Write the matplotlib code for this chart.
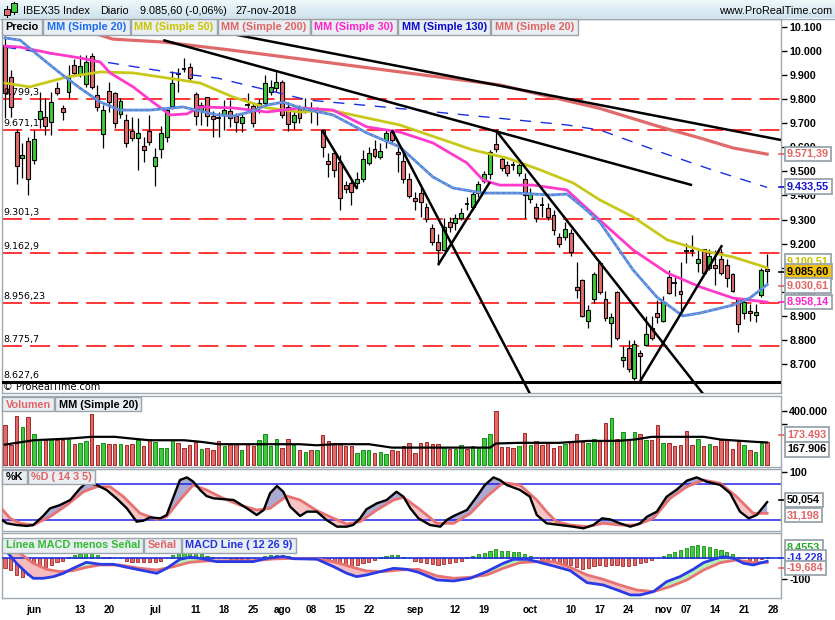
import numpy as np
import pandas as pd
import matplotlib
matplotlib.use("Agg")
import matplotlib.pyplot as plt
from matplotlib.patches import Rectangle
from matplotlib.lines import Line2D
from matplotlib.colors import LinearSegmentedColormap
import matplotlib.transforms as mtrans

plt.rcParams['font.family'] = ['Liberation Sans', 'DejaVu Sans']
plt.rcParams['lines.scale_dashes'] = False

# ---------------- data ----------------
dates = pd.bdate_range('2018-05-25', '2018-11-27')

opens = [10023, 9892, 9664, 9554, 9626, 9547, 9716, 9726, 9703, 9844,
         9761, 9830, 9941, 9900, 9861, 9978, 9816, 9653, 9833, 9826,
         9738, 9713, 9668, 9637, 9605, 9668, 9523, 9591, 9641, 9772,
         9902, 9926, 9934, 9821, 9754, 9807, 9730, 9722, 9734, 9751,
         9730, 9699, 9773, 9771, 9768, 9782, 9827, 9844, 9869, 9765,
         9706, 9761, 9750, 9756, 9747, 9671, 9544, 9575, 9537, 9443,
         9450, 9450, 9467, 9533, 9591, 9558, 9630, 9664, 9582, 9544,
         9467, 9388, 9412, 9351, 9267, 9209, 9174, 9290, 9285, 9308,
         9364, 9354, 9409, 9461, 9489, 9612, 9550, 9526, 9527, 9492,
         9467, 9384, 9354, 9362, 9347, 9319, 9229, 9230, 9244, 9020,
         9051, 8881, 8970, 9119, 8970, 8873, 8999, 8718, 8767, 8642,
         8746, 8780, 8850, 8912, 8881, 9061, 9038, 9004, 9168, 9168,
         9119, 9177, 9098, 9112, 9135, 9112, 9075, 8970, 8912, 8921,
         8905, 8988, 9094]
highs = [10060, 9920, 9675, 9616, 9644, 9671, 9830, 9803, 9830, 9872,
         9775, 9941, 9964, 9982, 9982, 9989, 9857, 9775, 9872, 9830,
         9803, 9738, 9724, 9720, 9644, 9733, 9596, 9688, 9761, 9917,
         9927, 9968, 9948, 9830, 9789, 9810, 9752, 9747, 9796, 9796,
         9740, 9740, 9823, 9789, 9800, 9899, 9878, 9920, 9880, 9789,
         9754, 9775, 9803, 9789, 9768, 9674, 9575, 9582, 9568, 9460,
         9464, 9499, 9588, 9602, 9630, 9616, 9671, 9671, 9602, 9582,
         9492, 9416, 9430, 9367, 9280, 9240, 9306, 9310, 9325, 9347,
         9395, 9420, 9460, 9500, 9590, 9671, 9561, 9545, 9545, 9540,
         9492, 9430, 9368, 9395, 9368, 9340, 9245, 9290, 9260, 9126,
         9055, 8945, 9085, 9130, 9005, 8913, 9005, 8778, 8803, 8803,
         8760, 8900, 8900, 8965, 8985, 9090, 9062, 9126, 9203, 9236,
         9175, 9180, 9180, 9175, 9180, 9135, 9080, 8975, 8970, 8950,
         8950, 9100, 9158]
lows = [9721, 9727, 9448, 9471, 9402, 9530, 9678, 9651, 9651, 9815,
        9713, 9803, 9895, 9890, 9850, 9840, 9750, 9595, 9747, 9678,
        9720, 9600, 9625, 9506, 9540, 9610, 9441, 9554, 9623, 9760,
        9830, 9913, 9872, 9692, 9692, 9690, 9641, 9641, 9671, 9685,
        9665, 9665, 9747, 9685, 9740, 9770, 9815, 9830, 9720, 9669,
        9674, 9700, 9743, 9699, 9692, 9561, 9478, 9478, 9340, 9410,
        9361, 9430, 9457, 9526, 9554, 9550, 9595, 9620, 9499, 9450,
        9390, 9340, 9312, 9290, 9195, 9112, 9168, 9250, 9256, 9299,
        9340, 9340, 9395, 9450, 9470, 9580, 9500, 9480, 9505, 9480,
        9305, 9370, 9292, 9312, 9298, 9236, 9185, 9215, 9150, 8975,
        8895, 8850, 8955, 8990, 8880, 8772, 8800, 8690, 8670, 8636,
        8630, 8775, 8800, 8870, 8875, 8990, 8985, 8910, 9119, 9150,
        9085, 9075, 9090, 9030, 9070, 9020, 9000, 8835, 8890, 8880,
        8875, 8980, 9037]
closes = [9825, 9768, 9522, 9568, 9467, 9634, 9750, 9688, 9789, 9826,
          9745, 9896, 9909, 9935, 9954, 9848, 9768, 9754, 9786, 9699,
          9792, 9616, 9637, 9658, 9588, 9620, 9558, 9660, 9754, 9865,
          9900, 9924, 9886, 9730, 9775, 9730, 9716, 9720, 9754, 9722,
          9706, 9724, 9771, 9702, 9782, 9865, 9851, 9869, 9734, 9696,
          9734, 9720, 9768, 9752, 9761, 9600, 9529, 9506, 9388, 9426,
          9416, 9467, 9550, 9577, 9564, 9586, 9658, 9630, 9571, 9467,
          9399, 9377, 9374, 9302, 9209, 9174, 9271, 9268, 9305, 9329,
          9362, 9406, 9447, 9489, 9582, 9591, 9512, 9492, 9525, 9526,
          9402, 9406, 9305, 9360, 9312, 9257, 9199, 9260, 9167, 9008,
          8900, 8925, 9075, 9001, 8891, 8895, 8808, 8732, 8680, 8785,
          8735, 8826, 8808, 8895, 8960, 8997, 9036, 8992, 9166, 9166,
          9135, 9078, 9149, 9098, 9078, 9057, 9006, 8867, 8960, 8912,
          8918, 9091, 9085.60]

# volume in thousands
volumes_k = [295, 147, 361, 278, 351, 233, 184, 184, 189, 189,
             184, 204, 155, 165, 177, 376, 147, 165, 160, 160,
             155, 147, 155, 184, 140, 196, 172, 130, 130, 184,
             165, 130, 147, 172, 123, 130, 111, 177, 140, 155,
             160, 115, 160, 140, 184, 228, 140, 196, 130, 196,
             147, 111, 98, 111, 111, 221, 177, 165, 165, 140,
             140, 93, 111, 111, 93, 98, 81, 111, 103, 140,
             167, 91, 165, 172, 160, 160, 135, 118, 123, 150,
             118, 143, 135, 204, 228, 400, 135, 135, 130, 145,
             240, 150, 177, 150, 165, 130, 140, 160, 172, 233,
             172, 167, 196, 184, 307, 344, 196, 245, 189, 245,
             233, 184, 189, 295, 167, 167, 140, 147, 250, 147,
             196, 140, 155, 140, 184, 184, 123, 177, 147, 115,
             98, 165, 173.493]
vol_ma_x = [0, 5, 11, 15, 19, 22, 25, 31, 34, 37, 51, 54, 57, 63, 67, 72,
            84, 85, 89, 96, 101, 106, 109, 112, 121, 124, 130, 132]
vol_ma_k = [152, 184, 196, 209, 209, 196, 184, 184, 172, 155, 155, 147, 155,
            155, 130, 130, 130, 160, 165, 165, 179, 179, 189, 209, 209, 189,
            172, 167.906]

# moving averages (day index, value)
sma20_x = [0, 2.6, 6.1, 9.5, 13, 16.5, 19.9, 25.1, 30.8, 36.7, 39.5, 42.4,
           45.4, 48.2, 51.1, 56.8, 62.7, 68.4, 74.1, 77.6, 82.8, 88.7, 94.4,
           97.3, 100.1, 103, 108.8, 112.9, 117.4, 120.4, 126.1, 129, 132]
sma20 = [10053, 10044, 9974, 9908, 9845, 9787, 9754, 9754, 9767, 9734, 9729,
         9746, 9775, 9787, 9763, 9734, 9659, 9601, 9477, 9431, 9410, 9410,
         9402, 9406, 9352, 9290, 9091, 8979, 8901, 8913, 8946, 8975, 9030.61]
sma50_x = [0, 4.3, 10.7, 16.5, 22.2, 28.1, 33.8, 39.5, 45.4, 51.1, 56.3,
           68.4, 81, 87, 92.7, 98.4, 103, 108.8, 114.7, 120.4, 126.1, 132]
sma50 = [9866, 9850, 9891, 9912, 9908, 9887, 9866, 9808, 9763, 9746, 9754,
         9692, 9589, 9555, 9506, 9452, 9382, 9311, 9216, 9174, 9145, 9100.51]
sma200_x = [0, 16, 18.7, 27.4, 39, 51.1, 68.4, 85.7, 103, 113.5, 120.4, 126.1, 132]
sma200 = [10160, 10068, 10048, 10036, 10003, 9966, 9912, 9858, 9761, 9684,
          9638, 9597, 9571.39]
sma30_x = [0, 2.6, 7.8, 13, 16.5, 18.2, 22.2, 25.1, 28.6, 31.5, 33.8, 39.5,
           45.4, 51.1, 56.8, 62.7, 68.4, 74.1, 80, 82.8, 85.7, 91.5, 97.3,
           103, 108.8, 114.7, 120.4, 126.1, 132]
sma30 = [10019, 10015, 9990, 9970, 9953, 9908, 9850, 9796, 9734, 9738, 9767,
         9763, 9746, 9763, 9754, 9684, 9663, 9618, 9535, 9464, 9443, 9443,
         9423, 9298, 9174, 9079, 9021, 8975, 8958.14]
sma130_x = [0, 11.8, 28.1, 36.7, 45.4, 52.3, 65.5, 85.2, 97.4, 103.1, 113.5,
            122, 132]
sma130 = [10015, 9974, 9912, 9887, 9837, 9796, 9767, 9721, 9692, 9671, 9580,
          9510, 9433.55]

# drawn levels and trend lines
level_values = [9799.3, 9671.1, 9301.3, 9162.9, 8956.23, 8775.7]
level_labels = ['9.799,3', '9.671,1', '9.301,3', '9.162,9', '8.956,23', '8.775,7']
support_value = 8627.6
support_label = '8.627,6'
trend_lines = [  # (day0, price0, day1, price1)
    (27.7, 10123, 134.4, 9630),
    (27.4, 10044, 119.0, 9443),
    (54.9, 9671, 61.0, 9427),
    (67.0, 9671, 91.0, 8575),
    (75.0, 9112, 84.0, 9456),
    (85.0, 9671, 121.0, 8575),
    (110.0, 8630, 124.2, 9194),
]

# stochastic
stoch_k_x = [-0.9, 0.3, 2.0, 3.8, 4.9, 6.6, 7.8, 9.5, 11.3, 13.0, 14.1, 15.9,
             17.6, 19.3, 21.1, 22.8, 24.0, 25.1, 26.9, 28.0, 29.2, 30.3, 31.5,
             32.6, 33.8, 34.9, 36.1, 39.6, 41.9, 43.6, 44.8, 45.9, 47.1, 48.2,
             49.4, 51.1, 52.3, 54.0, 55.7, 57.5, 59.2, 60.3, 61.5, 62.6, 64.4,
             66.1, 67.8, 69.0, 70.2, 71.6, 73.6, 75.4, 76.5, 77.7, 80.0, 81.7,
             83.1, 84.6, 85.7, 86.9, 89.2, 90.9, 92.1, 93.8, 96.1, 98.4, 100.2,
             101.9, 103.4, 104.8, 106.5, 108.3, 110.0, 111.2, 112.9, 114.6,
             116.4, 118.1, 119.8, 121.5, 123.9, 125.6, 127.3, 128.8, 130.2, 132.0]
stoch_k = [22.8, 14.4, 11.6, 10, 11.6, 26.7, 39.6, 45, 53.6, 73.1, 82.7, 78.8,
           70.4, 56.4, 39.6, 17.2, 18.9, 24.4, 22.8, 28.4, 59.2, 87.2, 91.6,
           84.4, 70.4, 60.3, 56.4, 53.6, 39.6, 28.4, 36.8, 64.8, 77.1, 67.5,
           42.3, 26.7, 34, 34, 20, 8.8, 8.8, 11.6, 22.8, 38, 48, 53.6, 67.5,
           59.2, 39.6, 22.8, 11.6, 8.8, 20, 26.7, 36.8, 59.2, 78.8, 91.6, 87.2,
           78.8, 70.4, 59.2, 28.4, 14.4, 11.6, 8.8, 6, 11.6, 22.8, 21.1, 14.4,
           8.8, 14.4, 25.6, 34, 59.2, 71.5, 86.1, 91.6, 84.4, 78.8, 64.8, 34,
           22.8, 28.4, 50.054]
stoch_d_x = [-0.9, 0.9, 2.6, 4.9, 7.8, 10.7, 13.6, 15.9, 18.2, 20.5, 23.4,
             26.3, 28.0, 30.3, 32.6, 34.9, 37.8, 40.7, 43.6, 45.9, 48.8, 51.1,
             54.0, 56.9, 59.2, 61.5, 64.4, 67.3, 69.0, 71.6, 74.8, 77.7, 80.6,
             83.4, 86.3, 89.2, 92.1, 93.8, 95.5, 97.9, 100.8, 103.6, 106.5,
             109.4, 112.3, 115.2, 118.1, 121.0, 123.9, 126.7, 129.6, 132.0]
stoch_d = [42.3, 22.8, 14.4, 11.6, 25.6, 45, 67.5, 75.9, 75.9, 59.2, 31.2,
           21.1, 25.6, 53.6, 78.8, 70.4, 56.4, 45, 36.8, 39.6, 60.3, 53.6,
           35.7, 22.8, 13.3, 17.2, 36.8, 53.6, 58.1, 39.6, 14.4, 14.4, 31.2,
           59.2, 82.7, 78.8, 53.6, 34, 17.2, 11.6, 8.8, 14.4, 11.6, 11.6, 22.8,
           56.4, 75.9, 87.2, 81.6, 59.2, 31.2, 31.198]

# MACD
macd_x = [-0.9, 0.3, 2.0, 3.8, 4.9, 6.6, 8.4, 10.1, 11.8, 14.1, 16.5, 18.8,
          21.1, 23.4, 26.3, 28.0, 30.3, 32.0, 33.8, 36.7, 39.6, 43.0, 45.3,
          48.2, 50.0, 54.0, 56.9, 59.2, 60.9, 62.6, 65.0, 67.3, 69.6, 71.6,
          74.8, 77.7, 80.6, 83.4, 86.3, 88.1, 90.4, 92.1, 95.0, 97.9, 100.8,
          103.6, 106.5, 108.3, 110.0, 112.3, 114.6, 116.9, 119.2, 121.0, 122.7,
          124.4, 126.2, 127.9, 129.6, 132.0]
macd_line = [47.6, 31.7, -23.8, -71.4, -95.2, -95.2, -87.3, -71.4, -47.6, -19,
             -28.6, -28.6, -42.9, -55.6, -71.4, -47.6, -4.8, 4.8, 0, -15.9,
             -15.9, -15.9, 0, 7.9, -2, -4, -39.7, -71.4, -87.3, -79.4, -63.5,
             -47.6, -52.4, -66.7, -103, -108, -95, -63.5, -23.8, -4.8, -4.8,
             -15.9, -36.5, -58.7, -115.9, -127, -155.6, -174.6, -174.6, -158.7,
             -111, -87.3, -52.4, -20.6, -4.8, 7.9, 0, -23.8, -31.7, -14.228]
signal_x = [-0.9, 2.6, 4.9, 7.2, 9.5, 11.8, 14.1, 16.5, 19.9, 23.4, 26.3, 29.2,
            32.0, 34.9, 39.6, 43.0, 46.5, 50.0, 54.0, 56.9, 59.8, 62.6, 65.5,
            68.4, 71.6, 74.8, 77.7, 80.6, 83.4, 86.3, 89.2, 92.1, 95.0, 97.9,
            100.8, 103.6, 106.5, 109.4, 112.3, 115.2, 118.1, 121.0, 123.9,
            126.7, 129.6, 132.0]
signal_line = [71, 23.8, -23.8, -52.4, -63.5, -58.7, -42.9, -31.7, -31.7, -47.6,
               -55.6, -39.7, -19, -12.7, -11.1, -11.1, -3.2, 0, -3.2, -15.9,
               -39.7, -60.3, -63.5, -55.6, -52.4, -84, -95, -90.5, -79.4, -47.6,
               -20.6, -15.9, -15.9, -42.9, -79.4, -100, -127, -150.8, -158.7,
               -134.9, -103, -55.6, -20.6, -7.9, -20.6, -19.684]
macd_hist = [-47.6, -55.6, -79, -87, -79, -68, -59, -43, -32, -19,
             -13, 8, 16, 21, 24, 24, 16, 8, 5, 0,
             0, -11, -16, -16, -19, -19, -19, -11, 0, 16,
             24, 27, 27, 24, 19, 11, 8, 3, 2, -2,
             -3, -3, -2, 0, 3, 11, 16, 16, 16, 11,
             5, 2, 2, 0, -2, -8, -16, -24, -29, -32,
             -37, -32, -24, -16, -8, 8, 11, 16, 16, 8,
             0, -11, -16, -24, -29, -32, -29, -24, -19, -13,
             8, 11, 21, 27, 37, 43, 37, 35, 32, 29,
             21, 11, 0, -8, -11, -19, -24, -29, -32, -40,
             -51, -48, -35, -32, -35, -32, -32, -35, -35, -32,
             -24, -16, -8, 2, 11, 21, 29, 40, 48, 59,
             63, 59, 52, 43, 40, 32, 21, 8, 2, -11,
             -11, -3, 8.4553]

tick_dates = ['2018-06-01', '2018-06-13', '2018-06-20', '2018-07-02', '2018-07-11',
              '2018-07-18', '2018-07-25', '2018-08-01', '2018-08-08', '2018-08-15',
              '2018-08-22', '2018-09-03', '2018-09-12', '2018-09-19', '2018-10-01',
              '2018-10-10', '2018-10-17', '2018-10-24', '2018-11-01', '2018-11-07',
              '2018-11-14', '2018-11-21', '2018-11-28']
tick_labels = ['jun', '13', '20', 'jul', '11', '18', '25', 'ago', '08', '15', '22',
               'sep', '12', '19', 'oct', '10', '17', '24', 'nov', '07', '14', '21', '28']

# ---------------- styling ----------------
W, H = 835, 620
RED = '#e26a6a'
GREEN = '#3ccc3c'
BORDER = '#9ea8b0'

def es(v, dec):
    s = f"{v:,.{dec}f}"
    return s.replace(',', 'X').replace('.', ',').replace('X', '.')

fig = plt.figure(figsize=(W / 100, H / 100), dpi=100)
fig.patch.set_facecolor('white')

def fx(px):
    return px / W

def fy(py):
    return 1 - py / H

def ax_px(left, top, right, bottom):
    ax = fig.add_axes([left / W, 1 - bottom / H, (right - left) / W, (bottom - top) / H])
    for s in ax.spines.values():
        s.set_color(BORDER)
        s.set_linewidth(1)
    ax.set_xlim(-0.52, 134.4)
    ax.yaxis.tick_right()
    ax.tick_params(axis='y', direction='out', length=4, width=1, colors='black', pad=2)
    ax.tick_params(axis='x', length=0, labelbottom=False)
    return ax

ax_main = ax_px(2, 19, 781, 393)
ax_vol = ax_px(2, 396, 781, 467)
ax_sto = ax_px(2, 469, 781, 531)
ax_macd = ax_px(2, 533, 781, 598)

n = len(dates)
xs = np.arange(n)

# ---- main price panel ----
ax_main.set_ylim(8581.5, 10131.4)
main_ticks = list(range(8700, 10101, 100))
ax_main.set_yticks(main_ticks)
ax_main.set_yticklabels([es(v, 0) for v in main_ticks], fontsize=7.7, fontweight='bold')

for v in level_values:
    ax_main.axhline(v, color='#ff0000', lw=1.1, ls=(0, (14.4, 5.8)), zorder=2)
ax_main.axhline(support_value, color='black', lw=2.2, zorder=6)
blend = mtrans.blended_transform_factory(ax_main.transAxes, ax_main.transData)
for v, lab in zip(level_values + [support_value], level_labels + [support_label]):
    ax_main.text(0.002, v + 8, lab, transform=blend, va='bottom', ha='left',
                 fontsize=6.8, family='DejaVu Sans', color='black', zorder=7)

for i in range(n):
    o, h, l, c = opens[i], highs[i], lows[i], closes[i]
    ax_main.vlines(i, l, h, color='black', lw=0.9, zorder=3)
    if abs(c - o) < 4:
        ax_main.hlines(o, i - 0.4, i + 0.4, color='black', lw=1.3, zorder=4)
    else:
        col = GREEN if c > o else RED
        ax_main.add_patch(Rectangle((i - 0.34, min(o, c)), 0.68, abs(c - o),
                                    fc=col, ec='black', lw=0.8, zorder=4))

ax_main.plot(sma200_x, sma200, color='#e06a6a', lw=2.3, zorder=5)
ax_main.plot(sma130_x, sma130, color='#1a2ee0', lw=1.0, ls=(0, (8, 7)), zorder=5)
ax_main.plot(sma50_x, sma50, color='#c8c81a', lw=2.0, zorder=5)
ax_main.plot(sma30_x, sma30, color='#ff3acb', lw=2.0, zorder=5)
ax_main.plot(sma20_x, sma20, color='#3d8df0', lw=2.0, zorder=5)
ax_main.plot(sma20_x, sma20, color='#e88a8a', lw=0.7, ls=(0, (2, 2)), zorder=5)

for (a0, p0, a1, p1) in trend_lines:
    ax_main.plot([a0, a1], [p0, p1], color='black', lw=1.8, zorder=6,
                 solid_capstyle='butt')

# ---- volume panel ----
ax_vol.set_ylim(-12, 508)
vcols = [GREEN if closes[i] >= opens[i] else RED for i in range(n)]
vedge = ['#1a8a1a' if closes[i] >= opens[i] else '#a02828' for i in range(n)]
ax_vol.bar(xs, volumes_k, width=0.6, color=vcols, edgecolor=vedge, lw=0.7, zorder=2)
ax_vol.plot(vol_ma_x, vol_ma_k, color='black', lw=1.6, zorder=3)
ax_vol.set_yticks([300, 400])
ax_vol.set_yticklabels(['', '400.000'], fontsize=7.7, fontweight='bold')

# ---- stochastic panel ----
ax_sto.set_ylim(1.5, 105.7)
ax_sto.axhline(80, color='#2222e8', lw=1.1, zorder=2)
ax_sto.axhline(20, color='#2222e8', lw=1.1, zorder=2)
gx = np.linspace(-0.9, 132, 1500)
gk = np.interp(gx, stoch_k_x, stoch_k)
gd = np.interp(gx, stoch_d_x, stoch_d)
ax_sto.fill_between(gx, gk, gd, where=gk >= gd, color='#aaaad4', interpolate=True, lw=0, zorder=1)
ax_sto.fill_between(gx, gk, gd, where=gk < gd, color='#f6c4c4', interpolate=True, lw=0, zorder=1)
ax_sto.plot(stoch_d_x, stoch_d, color='#e87272', lw=2.0, zorder=3)
ax_sto.plot(stoch_k_x, stoch_k, color='black', lw=1.7, zorder=4)
ax_sto.set_yticks([100])
ax_sto.set_yticklabels(['100'], fontsize=7.7, fontweight='bold')

# ---- MACD panel ----
ax_macd.set_ylim(-189, 120.5)
hcols = [GREEN if v >= 0 else RED for v in macd_hist]
hedge = ['#1a8a1a' if v >= 0 else '#a02828' for v in macd_hist]
ax_macd.bar(xs, macd_hist, width=0.55, color=hcols, edgecolor=hedge, lw=0.6, zorder=1)
gm = np.interp(gx, macd_x, macd_line)
gs = np.interp(gx, signal_x, signal_line)
ax_macd.fill_between(gx, gm, gs, where=gm >= gs, color='#b6f0b6', interpolate=True, lw=0, zorder=2)
ax_macd.fill_between(gx, gm, gs, where=gm < gs, color='#f4bcbc', interpolate=True, lw=0, zorder=2)
ax_macd.axhline(0, color='#2030e0', lw=1.2, zorder=3)
ax_macd.plot(signal_x, signal_line, color='#e87272', lw=2.0, zorder=4)
ax_macd.plot(macd_x, macd_line, color='#2a3ae6', lw=2.0, zorder=5)
ax_macd.set_yticks([-100])
ax_macd.set_yticklabels(['-100'], fontsize=7.7, fontweight='bold')

tick_pos = [int(np.searchsorted(dates, pd.Timestamp(d))) for d in tick_dates]
ax_macd.set_xticks(tick_pos)
ax_macd.set_xticklabels(tick_labels, fontsize=7.2, fontweight='bold')
ax_macd.tick_params(axis='x', length=0, pad=5, labelbottom=True)

# ---------------- title bar ----------------
ax_t = fig.add_axes([0, 1 - 18 / H, 1, 18 / H])
cm = LinearSegmentedColormap.from_list('t', ['#f0f8fc', '#cfe3ee'])
ax_t.imshow(np.linspace(0, 1, 40).reshape(-1, 1), aspect='auto', cmap=cm,
            extent=[0, 1, 0, 1])
ax_t.set_xlim(0, 1)
ax_t.set_ylim(0, 1)
ax_t.axis('off')
fig.add_artist(Line2D([0, 1], [fy(18.5)] * 2, color=BORDER, lw=1, transform=fig.transFigure))
# icon
fig.add_artist(Line2D([fx(7), fx(7)], [fy(6), fy(17)], color='black', lw=0.8, transform=fig.transFigure, zorder=20))
fig.add_artist(Rectangle((fx(4), fy(15)), fx(6), 6 / H, fc=RED, ec='black', lw=0.7, transform=fig.transFigure, zorder=21))
fig.add_artist(Line2D([fx(14), fx(14)], [fy(1.5), fy(14)], color='black', lw=0.8, transform=fig.transFigure, zorder=20))
fig.add_artist(Rectangle((fx(11), fy(12)), fx(6), 9 / H, fc=GREEN, ec='black', lw=0.7, transform=fig.transFigure, zorder=21))

title_parts = [(23, 'IBEX35 Index'), (100, 'Diario'),
               (140, es(closes[-1], 2) + ' (-0,06%)'), (236, '27-nov-2018')]
for px, txt in title_parts:
    fig.text(fx(px), fy(10.5), txt, fontsize=7.8, va='center', ha='left', color='black', zorder=22)
fig.text(fx(832), fy(10.5), 'www.ProRealTime.com', fontsize=7.8, va='center', ha='right', color='black', zorder=22)

# ---------------- legend rows ----------------
renderer = fig.canvas.get_renderer()

def legend_row(items, top, bottom, x0=2):
    x = x0
    for label, color in items:
        t = fig.text(fx(x + 3.5), fy((top + bottom) / 2 + 0.5), label, color=color,
                     fontsize=7.8, fontweight='bold', va='center', ha='left', zorder=31)
        w = t.get_window_extent(renderer).width
        r = Rectangle((fx(x), fy(bottom)), fx(w + 7), (bottom - top) / H,
                      fc='#e9eef2', ec='#9aa4ab', lw=1, transform=fig.transFigure, zorder=30)
        fig.add_artist(r)
        x = x + w + 8

legend_row([('Precio', 'black'), ('MM (Simple 20)', '#1a6cf0'), ('MM (Simple 50)', '#c8c400'),
            ('MM (Simple 200)', '#e06464'), ('MM (Simple 30)', '#ff22cc'),
            ('MM (Simple 130)', '#0a0ad0'), ('MM (Simple 20)', '#e06464')], 19, 34.5)
legend_row([('Volumen', '#e06464'), ('MM (Simple 20)', 'black')], 397, 411)
legend_row([('%K', 'black'), ('%D ( 14 3 5)', '#e06464')], 469.5, 483.5)
legend_row([('Línea MACD menos Señal', '#33bb33'), ('Señal', '#e06464'),
            ('MACD Line ( 12 26 9)', '#2233dd')], 537.5, 552.5)

fig.text(fx(3), fy(387.5), '© ProRealTime.com', fontsize=7, va='center', ha='left',
         color='black', family='DejaVu Sans', zorder=25)

# ---------------- value boxes on the right ----------------
def value_box(label, yc, color, face='white', marker=True):
    fig.text(fx(787), fy(yc), label, fontsize=7.8, fontweight='bold', color=color,
             va='center', ha='left', zorder=41,
             bbox=dict(boxstyle='square,pad=0.22', fc=face, ec='#9aa4ab', lw=1.3))
    if marker:
        fig.add_artist(Line2D([fx(779), fx(784)], [fy(yc)] * 2, color=color, lw=1.2,
                              transform=fig.transFigure, zorder=40))

value_box(es(sma200[-1], 2), 154, '#e06464')
value_box(es(sma130[-1], 2), 186.5, '#1010cc')
value_box(es(sma50[-1], 2), 261.5, '#c8c400', marker=False)
value_box(es(closes[-1], 2), 271.5, 'black', face='#f4c20d')
value_box(es(sma20[-1], 2), 285.5, '#e06464')
value_box(es(sma30[-1], 2), 302, '#ff22cc')

value_box(es(volumes_k[-1] * 1000, 0), 434.5, '#e06464')
value_box(es(vol_ma_k[-1] * 1000, 0), 449.5, 'black', marker=False)

value_box(es(stoch_k[-1], 3), 500, 'black')
value_box(es(stoch_d[-1], 3), 515, '#e06464', marker=False)

value_box(es(macd_hist[-1], 4), 547.5, '#22aa22', marker=False)
value_box(es(macd_line[-1], 3), 557.5, '#2233dd')
value_box(es(signal_line[-1], 3), 568, '#e06464')

fig.savefig('out.png', dpi=100, facecolor='white')
